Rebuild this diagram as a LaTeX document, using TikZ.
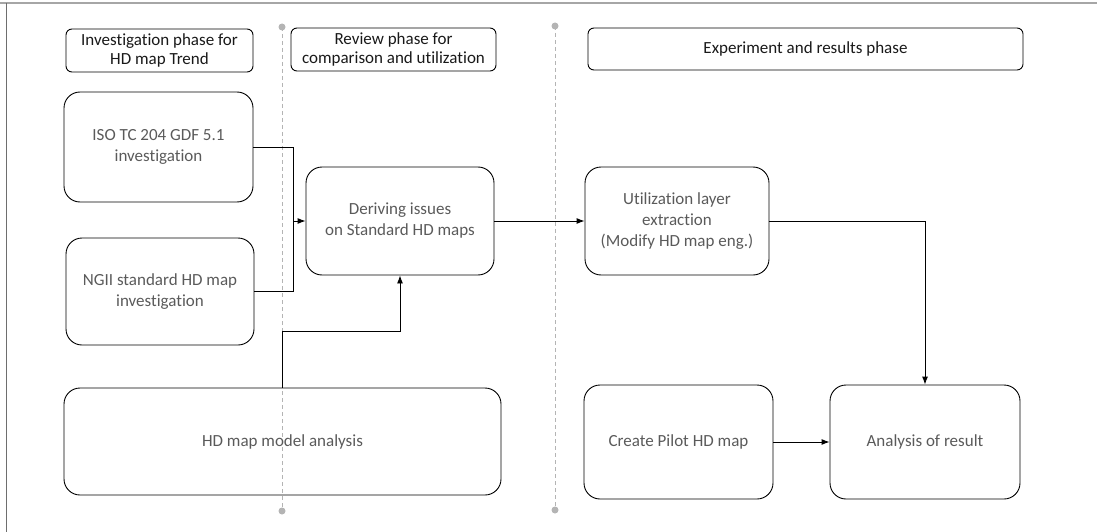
\documentclass[tikz,border=0pt]{standalone}
\usepackage{fontspec}
\setmainfont[Ligatures=NoCommon]{Carlito}
\usetikzlibrary{arrows.meta}

\definecolor{framegray}{HTML}{A6A6A6}
\definecolor{edgegray}{HTML}{6E6E6E}
\definecolor{dividergray}{HTML}{B4B4B4}
\definecolor{textgray}{HTML}{5A5A5A}
\tikzstyle{phase}=[draw, rounded corners=6pt, line width=0.9pt, align=center, text=black!90, font=\fontsize{17}{19}\selectfont]
\tikzstyle{task}=[draw, rounded corners=16pt, line width=0.9pt, align=center, text=textgray, font=\fontsize{17}{21}\selectfont]
\tikzstyle{divider}=[dividergray, line width=0.9pt, dash pattern=on 4pt off 3pt]
\tikzset{>={Latex[length=8pt,width=6pt]}}

\begin{document}
\begin{tikzpicture}[x=1pt, y=-1pt]

\useasboundingbox (0, 0) rectangle (1097, 532);

% frame
\draw [framegray, line width=2pt] (0, 3.5) to (1097, 3.5);
\draw [edgegray, line width=1.2pt] (6.5, 3.5) to (6.5, 532);

% dividers
\draw [divider] (282, 27) to (282, 511);
\draw [divider] (555, 26) to (555, 510);
\fill [dividergray] (282, 27) circle (3.5);
\fill [dividergray] (282, 511) circle (3.5);
\fill [dividergray] (555, 26) circle (3.5);
\fill [dividergray] (555, 510) circle (3.5);

% phases
\node [phase, minimum width=187, minimum height=43] (head1) at (159.5, 50.5) {Investigation phase for\\HD map Trend};
\node [phase, minimum width=205, minimum height=43] (head2) at (393.5, 49.5) {Review phase for\\comparison and utilization};
\node [phase, minimum width=435, minimum height=42] (head3) at (805.5, 49) {Experiment and results phase};

% tasks
\node [task, minimum width=189, minimum height=110] (iso) at (158.5, 147) {ISO TC 204 GDF 5.1\\investigation};
\node [task, minimum width=188, minimum height=107] (ngii) at (160, 291.5) {NGII standard HD map\\investigation};
\node [task, minimum width=188, minimum height=108] (derive) at (400, 221) {Deriving issues\\on Standard HD maps};
\node [task, minimum width=437, minimum height=107] (model) at (282.5, 441.5) {HD map model analysis};
\node [task, minimum width=184, minimum height=108] (util) at (677, 221) {Utilization layer\\extraction\\(Modify HD map eng.)};
\node [task, minimum width=189, minimum height=114] (pilot) at (678.5, 442) {Create Pilot HD map};
\node [task, minimum width=190, minimum height=114] (result) at (925, 442) {Analysis of result};

\coordinate (join) at (293, 221);

\draw [line width=0.9pt] (iso.east) -| (join);
\draw [line width=0.9pt] (ngii.east) -| (join);
\draw [->, line width=0.9pt] (join) to (derive.west);
\draw [->, line width=0.9pt] (model.north) -- ++(0, -56) -| (derive.south);
\draw [->, line width=0.9pt] (derive.east) to (util.west);
\draw [->, line width=0.9pt] (util.east) -| (result.north);
\draw [->, line width=0.9pt] (pilot.east) to (result.west);

\end{tikzpicture}
\end{document}
